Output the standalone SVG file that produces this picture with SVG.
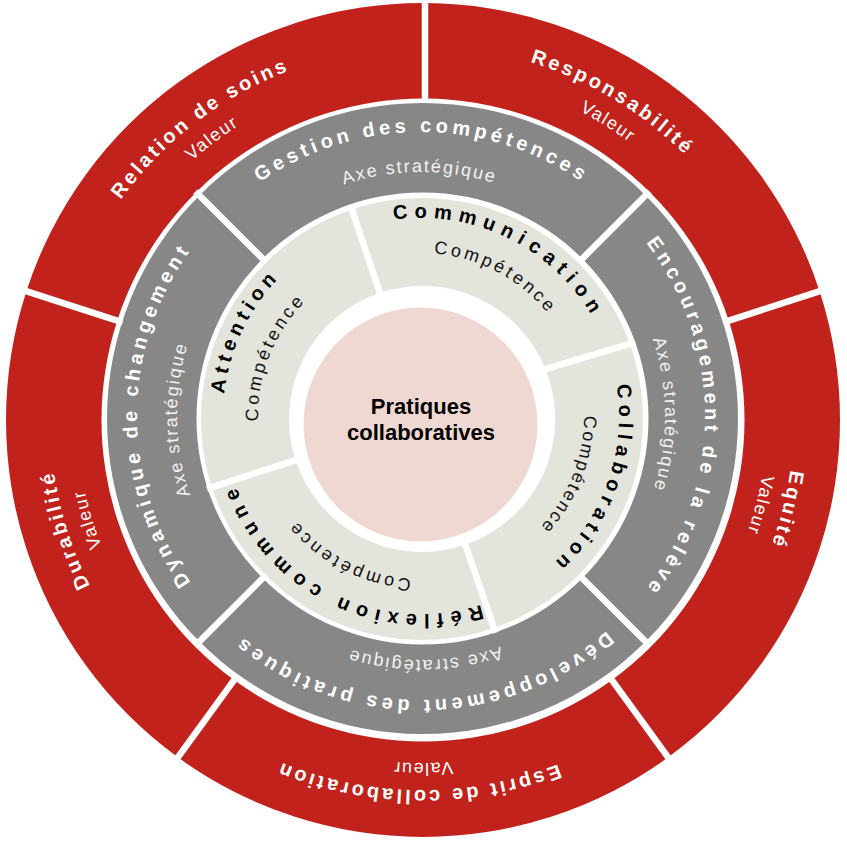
<svg xmlns="http://www.w3.org/2000/svg" width="847" height="842" viewBox="0 0 847 842">
<style>
.red{fill:#c1221b}
.gray{fill:#878787}
.light{fill:#e3e5dd}
.core{fill:#efd8d1}
.sep{stroke:#fff;stroke-width:6.5;fill:none}
text{font-family:"Liberation Sans",Arial,Helvetica,sans-serif;text-anchor:middle}
.t1{font-size:20px;font-weight:bold;fill:#fff;letter-spacing:3px}
.s1{font-size:18px;fill:#fff;letter-spacing:1.5px}
.t2{font-size:20px;font-weight:bold;fill:#fff;letter-spacing:4.2px}
.s2{font-size:18px;fill:#f2f2f2;letter-spacing:1.9px}
.t3{font-size:20px;font-weight:bold;fill:#000}
.s3{font-size:18px;fill:#111;letter-spacing:3.2px}
.c{font-size:22px;font-weight:bold;fill:#000}
</style>
<defs>
<path id="pR1" d="M794 418A372 372 0 0 1 50 418A372 372 0 0 1 794 418A372 372 0 0 1 50 418A372 372 0 0 1 794 418"/>
<path id="pR2" d="M767 418A345 345 0 0 1 77 418A345 345 0 0 1 767 418A345 345 0 0 1 77 418A345 345 0 0 1 767 418"/>
<path id="pG1" d="M705 416A284 284 0 0 1 137 416A284 284 0 0 1 705 416A284 284 0 0 1 137 416A284 284 0 0 1 705 416"/>
<path id="pG2" d="M665 416A244 244 0 0 1 177 416A244 244 0 0 1 665 416A244 244 0 0 1 177 416A244 244 0 0 1 665 416"/>
<path id="pL1" d="M619 416A198 198 0 0 1 223 416A198 198 0 0 1 619 416A198 198 0 0 1 223 416A198 198 0 0 1 619 416"/>
<path id="pL2" d="M584 416A163 163 0 0 1 258 416A163 163 0 0 1 584 416A163 163 0 0 1 258 416A163 163 0 0 1 584 416"/>
</defs>

<!-- Valeurs (outer red ring) -->
<g id="relation-de-soins">
<path class="red" d="M26.41 291.14A417 417 0 0 1 425 3.005L425 98.51A321.5 321.5 0 0 0 117.23 320.65Z"/>
<text class="t1"><textPath href="#pR1" startOffset="1509.5">Relation de soins</textPath></text>
<text class="s1"><textPath href="#pR2" startOffset="1403">Valeur</textPath></text>
</g>
<g id="responsabilite">
<path class="red" d="M425 3.005A417 417 0 0 1 819.59 291.14L728.77 320.65A321.5 321.5 0 0 0 425 98.51Z"/>
<text class="t1"><textPath href="#pR1" startOffset="1954.3">Responsabilité</textPath></text>
<text class="s1"><textPath href="#pR2" startOffset="1818.5">Valeur</textPath></text>
</g>
<g id="equite">
<path class="red" d="M819.59 291.14A417 417 0 0 1 668.11 757.36L611.97 680.1A321.5 321.5 0 0 0 728.77 320.65Z"/>
<text class="t1"><textPath href="#pR1" startOffset="2428.2">Equité</textPath></text>
<text class="s1"><textPath href="#pR2" startOffset="2253.8">Valeur</textPath></text>
</g>
<g id="esprit-de-collaboration">
<path class="red" d="M668.11 757.36A417 417 0 0 1 177.89 757.36L234.03 680.1A321.5 321.5 0 0 0 611.97 680.1Z"/>
<text class="t1"><textPath href="#pR1" startOffset="587.6">Esprit de collaboration</textPath></text>
<text class="s1"><textPath href="#pR2" startOffset="540.7">Valeur</textPath></text>
</g>
<g id="durabilite">
<path class="red" d="M177.89 757.36A417 417 0 0 1 26.41 291.14L117.23 320.65A321.5 321.5 0 0 0 234.03 680.1Z"/>
<text class="t1"><textPath href="#pR1" startOffset="1055">Durabilité</textPath></text>
<text class="s1"><textPath href="#pR2" startOffset="981.5">Valeur</textPath></text>
</g>

<!-- Axes stratégiques (gray ring) -->
<g id="gestion-des-competences">
<path class="gray" d="M199.41 195.41A315.5 315.5 0 0 1 645.59 195.41L582.31 258.69A226 226 0 0 0 262.69 258.69Z"/>
<text class="t2"><textPath href="#pG1" startOffset="1338.3">Gestion des compétences</textPath></text>
<text class="s2"><textPath href="#pG2" startOffset="1147.7">Axe stratégique</textPath></text>
</g>
<g id="encouragement-de-la-releve">
<path class="gray" d="M645.59 195.41A315.5 315.5 0 0 1 645.59 641.59L582.31 578.31A226 226 0 0 0 582.31 258.69Z"/>
<text class="t2"><textPath href="#pG1" startOffset="1784.4">Encouragement de la relève</textPath></text>
<text class="s2"><textPath href="#pG2" startOffset="1531">Axe stratégique</textPath></text>
</g>
<g id="developpement-des-pratiques">
<path class="gray" d="M645.59 641.59A315.5 315.5 0 0 1 199.41 641.59L262.69 578.31A226 226 0 0 0 582.31 578.31Z"/>
<text class="t2"><textPath href="#pG1" startOffset="442.6">Développement des pratiques</textPath></text>
<text class="s2"><textPath href="#pG2" startOffset="379">Axe stratégique</textPath></text>
</g>
<g id="dynamique-de-changement">
<path class="gray" d="M199.41 641.59A315.5 315.5 0 0 1 199.41 195.41L262.69 258.69A226 226 0 0 0 262.69 578.31Z"/>
<text class="t2"><textPath href="#pG1" startOffset="892.2">Dynamique de changement</textPath></text>
<text class="s2"><textPath href="#pG2" startOffset="762.3">Axe stratégique</textPath></text>
</g>

<!-- Compétences (light ring) -->
<g id="communication">
<path class="light" d="M351.88 209.42A221 221 0 0 1 629.8 343.9L545.5 369A133 133 0 0 0 379.8 292.87Z"/>
<text class="t3" style="letter-spacing:6.7px"><textPath href="#pL1" startOffset="1024.3">Communication</textPath></text>
<text class="s3"><textPath href="#pL2" startOffset="847.8">Compétence</textPath></text>
</g>
<g id="collaboration">
<path class="light" d="M629.8 343.9A221 221 0 0 1 493.95 627.96L465.3 544.75A133 133 0 0 0 545.5 369Z"/>
<text class="t3" style="letter-spacing:5.5px"><textPath href="#pL1" startOffset="1312.5">Collaboration</textPath></text>
<text class="s3" style="letter-spacing:2.2px"><textPath href="#pL2" startOffset="1085.3">Compétence</textPath></text>
</g>
<g id="reflexion-commune">
<path class="light" d="M493.95 627.96A221 221 0 0 1 211.82 487.29L295.51 460.1A133 133 0 0 0 465.3 544.75Z"/>
<text class="t3" style="letter-spacing:6.8px"><textPath href="#pL1" startOffset="402.6">Réflexion commune</textPath></text>
<text class="s3"><textPath href="#pL2" startOffset="332.9">Compétence</textPath></text>
</g>
<g id="attention">
<path class="light" d="M211.82 487.29A221 221 0 0 1 351.88 209.42L379.8 292.87A133 133 0 0 0 295.51 460.1Z"/>
<text class="t3" style="letter-spacing:5px"><textPath href="#pL1" startOffset="710.2">Attention</textPath></text>
<text class="s3"><textPath href="#pL2" startOffset="573.5">Compétence</textPath></text>
</g>

<!-- Centre -->
<g id="pratiques-collaboratives">
<circle class="core" cx="420.5" cy="424.5" r="117"/>
<text class="c" x="421" y="414">Pratiques</text>
<text class="c" x="421" y="440">collaboratives</text>
</g>

<!-- Separators -->
<g id="separators" class="sep">
<line x1="425" y1="-2" x2="425" y2="103"/>
<line x1="723.5" y1="322.4" x2="825.3" y2="289.3"/>
<line x1="608.7" y1="675.6" x2="671.6" y2="762.2"/>
<line x1="237.3" y1="675.6" x2="174.4" y2="762.2"/>
<line x1="122.5" y1="322.4" x2="20.7" y2="289.3"/>
<line x1="578.8" y1="262.2" x2="649.5" y2="191.5"/>
<line x1="578.8" y1="574.8" x2="649.5" y2="645.5"/>
<line x1="266.2" y1="574.8" x2="195.5" y2="645.5"/>
<line x1="266.2" y1="262.2" x2="195.5" y2="191.5"/>
<line x1="381.39" y1="297.61" x2="350.29" y2="204.68"/>
<line x1="635.05" y1="342.3" x2="541.8" y2="370.1"/>
<line x1="463.67" y1="540.03" x2="495.58" y2="632.69"/>
<line x1="300.26" y1="458.55" x2="207.06" y2="488.84"/>
</g>
</svg>
